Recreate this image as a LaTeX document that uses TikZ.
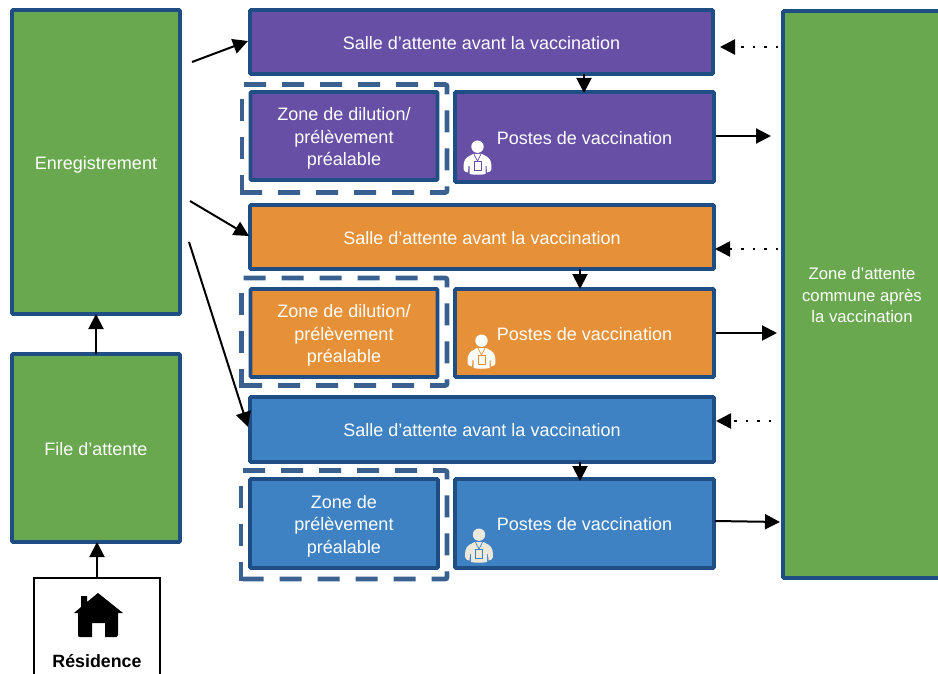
\documentclass[tikz,border=0pt]{standalone}
\usepackage{fontspec}
\setmainfont{Liberation Sans}
\usetikzlibrary{arrows.meta}
\definecolor{vpurple}{HTML}{674FA6}
\definecolor{vorange}{HTML}{E69138}
\definecolor{vblue}{HTML}{3E82C4}
\definecolor{vgreen}{HTML}{6AA84F}
\definecolor{vborder}{HTML}{1F4E85}
\definecolor{vdash}{HTML}{3A6090}
\definecolor{vcream}{HTML}{EDE8DC}
\newcommand{\boxnode}[7]{% name, colour, x0,y0,x1,y1, text
  \node[zonebox,fill=#2,minimum width={#5-#3},minimum height={#6-#4}] (#1) at ({(#3+#5)/2},{(#4+#6)/2}) {\raisebox{-2.7pt}[\height][\depth]{\begin{tabular}{@{}c@{}}#7\end{tabular}}};}
\newcommand{\dashzone}[4]{%
  \draw[dashbox] (#1+2,#2) -- (#3,#2) -- (#3,#4) -- (#1+2,#4);
  \draw[dashbox,dash phase=5pt] (#1,#4) -- (#1,#2);
  \fill[vdash] (#1-2.4,#4+2.4) rectangle (#1+3,#4-2.4);}
\newcommand{\personicon}[4]{% x, bottom y, body colour, badge colour
  \begin{scope}[shift={(#1,#2)}]
    \fill[#3] (0,-28.3) circle (6.2);
    \fill[#3] (-4.5,-21) -- (-10,-18) .. controls (-14,-15.5) and (-14,-10) .. (-14,-6) .. controls (-13,-3.5) .. (-9.5,-2.5) -- (-9,-9) -- (-8,-9) -- (-8,-1) .. controls (-3,0) and (3,0) .. (8,-1) -- (8,-9) -- (9,-9) -- (9.5,-2.5) .. controls (13,-3.5) .. (14,-6) .. controls (14,-10) and (14,-15.5) .. (10,-18) -- (4.5,-21) -- cycle;
    \draw[#4,line width=0.7pt] (-3.5,-20.8) -- (0,-14) -- (3.5,-20.8);
    \filldraw[fill=#3,draw=#4,line width=0.7pt] (-3.4,-14) rectangle (3.4,-5);
  \end{scope}}
\tikzset{
  x=1pt,y=-1pt,
  zonebox/.style={draw=vborder,line width=3.8pt,rounded corners=1pt,text=white,inner sep=0pt,
    outer sep=0pt,font=\fontsize{18}{22.5}\selectfont,anchor=center},
  widezone/.style={zonebox,font=\fontsize{16.7}{21.5}\selectfont},
  dashbox/.style={draw=vdash,line width=4.8pt,dash pattern=on 22pt off 16pt,rounded corners=2pt,fill=none},
  arr/.style={draw=black,line width=2pt,-{Triangle[length=15pt,width=15pt]}},
  dotarr/.style={draw=black,line width=2.5pt,dash pattern=on 2.5pt off 9pt,-{Triangle[length=15pt,width=15pt]}},
}
\renewcommand{\arraystretch}{1}
\setlength{\tabcolsep}{0pt}
\begin{document}
\begin{tikzpicture}
\useasboundingbox (0,0) rectangle (938,674);
\clip (0,0) rectangle (938,674);
% green
\boxnode{enreg}{vgreen}{12}{10}{180}{314}{Enregistrement}
\boxnode{file}{vgreen}{12}{354}{180}{542}{File d’attente}
\node[widezone,fill=vgreen,minimum width=158pt,minimum height=567pt] (commune) at (862,294.5) {\raisebox{-2.4pt}[\height][\depth]{\begin{tabular}{@{}c@{}}Zone d’attente\\commune après\\la vaccination\end{tabular}}};
% residence
\node[draw=black,line width=2pt,fill=white,minimum width=126pt,minimum height=110pt,inner sep=0pt,outer sep=0pt] (res) at (97,633) {};
\node[font=\bfseries\fontsize{17.8}{20}\selectfont,inner sep=0pt] (restxt) at (97,661) {Résidence};
\fill[black] (98,593) -- (123,613) -- (118,613) -- (118,635) .. controls (118,636.5) .. (116.5,637) -- (105,637) -- (105,623) -- (92,623) -- (92,637) -- (80,637) .. controls (78,636.5) .. (78,635) -- (78,613) -- (74,613) -- (81,607) -- (81,596) -- (87,596) -- (87,602) -- cycle;
% purple
\dashzone{242}{84.5}{447}{192.5}
\boxnode{ps}{vpurple}{250}{10}{713}{74}{Salle d’attente avant la vaccination}
\boxnode{pz}{vpurple}{250.5}{92}{437.5}{180}{Zone de dilution/\\prélèvement\\préalable}
\boxnode{pp}{vpurple}{455}{92}{714}{182}{Postes de vaccination}
\personicon{477.5}{175}{white}{vpurple}
% orange
\dashzone{241.5}{278}{447}{385.5}
\boxnode{os}{vorange}{250}{205}{714}{269}{Salle d’attente avant la vaccination}
\boxnode{oz}{vorange}{250.5}{289}{437.5}{377}{Zone de dilution/\\prélèvement\\préalable}
\boxnode{op}{vorange}{455}{289}{714}{377}{Postes de vaccination}
\personicon{481.5}{369}{white}{vorange}
% blue
\dashzone{241}{470.5}{447}{579}
\boxnode{bs}{vblue}{250}{397}{714}{462}{Salle d’attente avant la vaccination}
\boxnode{bz}{vblue}{250}{479}{438}{568}{Zone de\\prélèvement\\préalable}
\boxnode{bp}{vblue}{455}{479}{714}{568}{Postes de vaccination}
\personicon{479}{563}{vcream}{vblue}
% free ends
\coordinate (e1) at (192,62); \coordinate (e2) at (190,201); \coordinate (e3) at (189,242);
\coordinate (t1) at (248,41); \coordinate (t2) at (249,236); \coordinate (t3) at (248,427);
\draw[arr] (e1) -- (t1);
\draw[arr] (e2) -- (t2);
\draw[arr] (e3) -- (t3);
\draw[arr] (file.north) -- (enreg.south);
\draw[arr] (res.north) -- (res.north |- file.south);
\draw[arr] (584,74) -- (584,93);
\draw[arr] (580,269) -- (580,289);
\draw[arr] (580,462) -- (580,481);
\coordinate (d1) at (778,47); \coordinate (d2) at (778,249); \coordinate (d3) at (771,421);
\coordinate (h1) at (720,47); \coordinate (h2) at (715,249); \coordinate (h3) at (716,421);
\draw[dotarr] (d1) -- (h1);
\draw[dotarr] (d2) -- (h2);
\draw[dotarr] (d3) -- (h3);
\coordinate (o1) at (771,136); \coordinate (o2) at (777,333); \coordinate (o3) at (780,522);
\draw[arr] (716,136) -- (o1);
\draw[arr] (716,333) -- (o2);
\draw[arr] (715,521) -- (o3);
\end{tikzpicture}
\end{document}
